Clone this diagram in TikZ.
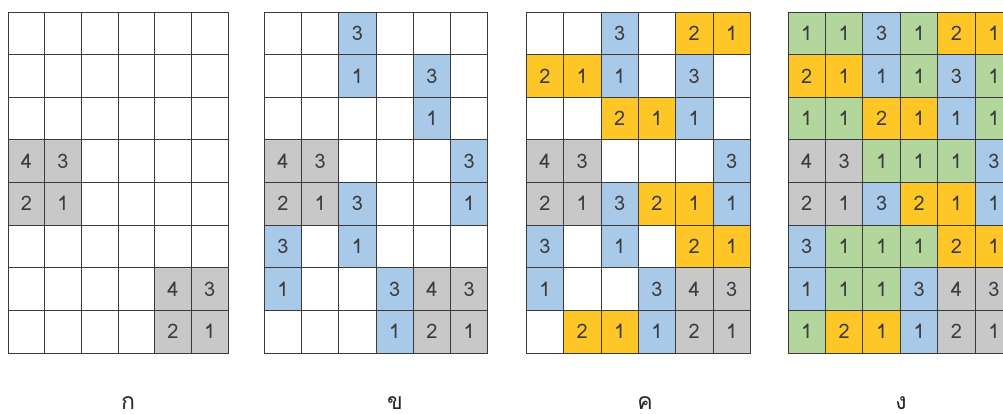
\documentclass[tikz,border=0pt]{standalone}
\usepackage{fontspec}
\newfontfamily\thaifont[Script=Thai]{Loma}
\definecolor{colW}{HTML}{FFFFFF}
\definecolor{colG}{HTML}{C8C8C8}
\definecolor{colB}{HTML}{A9C9E8}
\definecolor{colY}{HTML}{FFC628}
\definecolor{colN}{HTML}{B2D69C}
\definecolor{gridline}{HTML}{3A3A3A}
\definecolor{numtext}{HTML}{3C3C3C}
\tikzset{
  cellbox/.style={draw=gridline, line width=0.9pt, inner sep=0pt,
    minimum width=#1, minimum height=42.625pt,
    font=\thaifont\fontsize{20}{20}\selectfont, text=numtext},
  lab/.style={anchor=base, inner sep=0pt, text depth=0pt, font=\thaifont\fontsize{23}{23}\selectfont, text=black!85}
}
\newcommand\drawgrid[4]{%
  \foreach \rowdata [count=\ri] in {#4} {
    \foreach \k/\n [count=\ci] in \rowdata {
      \node[cellbox=#3pt, fill=col\k] (g#1-\ri-\ci) at ({#2+(\ci-0.5)*#3}, {-12-(\ri-0.5)*42.625}) {\ifnum\n=0 \else\n\fi};
    }
  }%
}
\begin{document}
\begin{tikzpicture}[x=1pt,y=1pt]
\useasboundingbox (0,0) rectangle (1003,-414);
\fill[white] (0,0) rectangle (1003,-414);
% grid a
\drawgrid{1}{8}{36.67}{%
 {W/0,W/0,W/0,W/0,W/0,W/0},
 {W/0,W/0,W/0,W/0,W/0,W/0},
 {W/0,W/0,W/0,W/0,W/0,W/0},
 {G/4,G/3,W/0,W/0,W/0,W/0},
 {G/2,G/1,W/0,W/0,W/0,W/0},
 {W/0,W/0,W/0,W/0,W/0,W/0},
 {W/0,W/0,W/0,W/0,G/4,G/3},
 {W/0,W/0,W/0,W/0,G/2,G/1}}
% grid b
\drawgrid{2}{264.3}{37.23}{%
 {W/0,W/0,B/3,W/0,W/0,W/0},
 {W/0,W/0,B/1,W/0,B/3,W/0},
 {W/0,W/0,W/0,W/0,B/1,W/0},
 {G/4,G/3,W/0,W/0,W/0,B/3},
 {G/2,G/1,B/3,W/0,W/0,B/1},
 {B/3,W/0,B/1,W/0,W/0,W/0},
 {B/1,W/0,W/0,B/3,G/4,G/3},
 {W/0,W/0,W/0,B/1,G/2,G/1}}
% grid c
\drawgrid{3}{526.3}{37.33}{%
 {W/0,W/0,B/3,W/0,Y/2,Y/1},
 {Y/2,Y/1,B/1,W/0,B/3,W/0},
 {W/0,W/0,Y/2,Y/1,B/1,W/0},
 {G/4,G/3,W/0,W/0,W/0,B/3},
 {G/2,G/1,B/3,Y/2,Y/1,B/1},
 {B/3,W/0,B/1,W/0,Y/2,Y/1},
 {B/1,W/0,W/0,B/3,G/4,G/3},
 {W/0,Y/2,Y/1,B/1,G/2,G/1}}
% grid d
\drawgrid{4}{788}{37.45}{%
 {N/1,N/1,B/3,N/1,Y/2,Y/1},
 {Y/2,Y/1,B/1,N/1,B/3,N/1},
 {N/1,N/1,Y/2,Y/1,B/1,N/1},
 {G/4,G/3,N/1,N/1,N/1,B/3},
 {G/2,G/1,B/3,Y/2,Y/1,B/1},
 {B/3,N/1,N/1,N/1,Y/2,Y/1},
 {B/1,N/1,N/1,B/3,G/4,G/3},
 {N/1,Y/2,Y/1,B/1,G/2,G/1}}
% labels
\node[lab] (lab1) at (128,-409) {ก};
\node[lab] (lab2) at (395,-409) {ข};
\node[lab] (lab3) at (645,-409) {ค};
\node[lab] (lab4) at (901,-409) {ง};
\end{tikzpicture}
\end{document}
